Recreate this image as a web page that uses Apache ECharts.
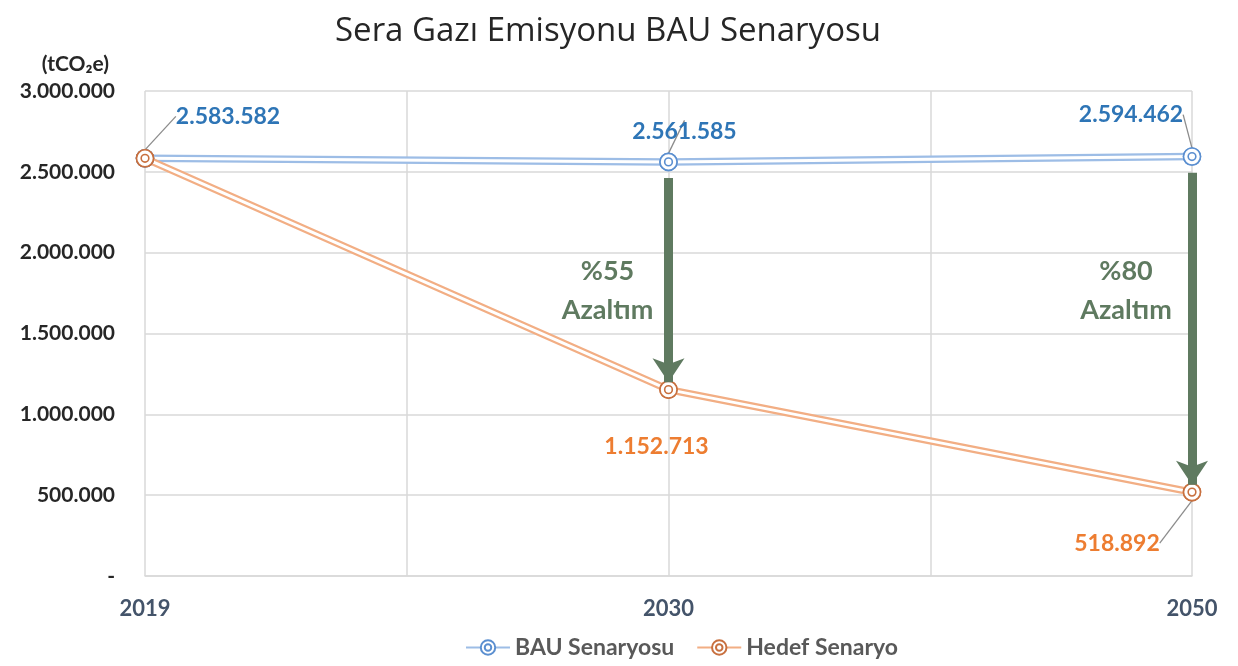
<!DOCTYPE html>
<html>
<head>
<meta charset="utf-8">
<title>Sera Gazı Emisyonu BAU Senaryosu</title>
<script src="https://cdn.jsdelivr.net/npm/echarts@6/dist/echarts.min.js"></script>
<style>
  html, body { margin: 0; padding: 0; background: #fff; }
  #main { width: 1238px; height: 666px; }
</style>
</head>
<body>
<div id="main"></div>
<script>
// data
let years = ['2019', '2030', '2050'];
let bauValues = [2583582, 2561585, 2594462];
let hedefValues = [2583582, 1152713, 518892];
let seriesNames = ['BAU Senaryosu', 'Hedef Senaryo'];

// label offsets from the point (px), one per year
let bauLabelOffsets = [[83, -42], [16, -30], [-61, -42]];
let hedefLabelOffsets = [[0, 0], [-12, 57], [-75, 51]];

(function () {
    // axis has an empty slot between the years, like the original
    let axisCats = [];
    let spread = function (arr) {
        let out = [];
        arr.forEach((v, i) => {
            if (i > 0) out.push(null);
            out.push(v);
        });
        return out;
    };
    years.forEach((y, i) => {
        if (i > 0) axisCats.push('');
        axisCats.push(y);
    });

    let fmt = v => String(Math.round(v)).replace(/\B(?=(\d{3})+(?!\d))/g, '.');

    let ring = 'path://M0,-8A8,8 0 1,1 0,8A8,8 0 1,1 0,-8Z M0,-3.6A3.6,3.6 0 1,1 0,3.6A3.6,3.6 0 1,1 0,-3.6Z';
    let arrowColor = '#5f7a60';

    // two series per line: wide coloured stroke + thin white stroke on top = double line
    let makeSeries = function (name, values, showLabel, showGuide, lineColor, ringColor, labelColor, offsets) {
        let base = {
            name: name,
            type: 'line',
            connectNulls: true,
            symbol: ring,
            symbolSize: 17,
            itemStyle: {color: '#fff', borderColor: ringColor, borderWidth: 1.6},
            emphasis: {disabled: true},
            animation: false
        };
        let outer = Object.assign({}, base, {
            data: spread(values),
            label: {show: false},
            lineStyle: {color: lineColor, width: 7.5}
        });
        let inner = Object.assign({}, base, {
            data: spread(values.map((v, i) => ({
                value: v,
                label: {show: showLabel[i]},
                labelLine: {show: showGuide[i]}
            }))),
            lineStyle: {color: '#fff', width: 3},
            label: {
                show: true,
                position: 'inside',
                formatter: p => fmt(p.value),
                color: labelColor,
                fontFamily: 'Lato',
                fontWeight: 'bold',
                fontSize: 23
            },
            labelLine: {show: true, lineStyle: {color: '#8c8c8c', width: 1.3}},
            labelLayout: function (p) {
                let o = offsets[Math.round(p.dataIndex / 2)] || [0, 0];
                return {dx: o[0], dy: o[1]};
            }
        });
        return [outer, inner];
    };

    let arrowData = [];
    let arrowTexts = [];
    years.forEach((y, i) => {
        if (i === 0) return;
        let b = bauValues[i], t = hedefValues[i];
        arrowData.push([
            {coord: [i * 2, b - 100000]},
            {coord: [i * 2, t + 45000]}
        ]);
        arrowTexts.push({
            coord: [i * 2, (b + t) / 2],
            value: '%' + Math.round((1 - t / b) * 100) + '\nAzaltım'
        });
    });

    let bauSeries = makeSeries(seriesNames[0], bauValues, [true, true, true], [true, true, true],
        '#9dbde6', '#5b8fd0', '#2e75b6', bauLabelOffsets);
    let hedefSeries = makeSeries(seriesNames[1], hedefValues, [false, true, true], [false, false, true],
        '#f2ae84', '#c8703f', '#ed7d31', hedefLabelOffsets);

    hedefSeries[1].markLine = {
        silent: true,
        symbol: ['none', 'arrow'],
        symbolSize: [24, 24],
        lineStyle: {color: arrowColor, width: 9, type: 'solid', opacity: 1},
        label: {show: false},
        data: arrowData,
        animation: false
    };
    hedefSeries[1].markPoint = {
        silent: true,
        symbol: 'circle',
        symbolSize: 0,
        label: {
            show: true,
            formatter: p => p.value,
            color: arrowColor,
            fontFamily: 'Lato',
            fontWeight: 'bold',
            fontSize: 27,
            lineHeight: 39
        },
        data: arrowTexts.map((a, i) => ({
            coord: a.coord,
            value: a.value,
            label: {offset: i === 0 ? [-61, 15] : [-66, -34]}
        })),
        animation: false
    };

    let myChart = echarts.init(document.getElementById('main'));
    let option = {
        backgroundColor: '#fff',
        title: {
            text: 'Sera Gazı Emisyonu BAU Senaryosu',
            left: 330,
            top: 10,
            textStyle: {fontFamily: 'Open Sans', fontWeight: 'normal', fontSize: 33, color: '#262626'}
        },
        legend: {
            data: seriesNames,
            bottom: 2,
            left: 460,
            itemWidth: 44,
            itemHeight: 18,
            itemGap: 22,
            textStyle: {fontFamily: 'Lato', fontWeight: 'bold', fontSize: 23, color: '#595959'}
        },
        grid: {left: 145, right: 46, top: 91, bottom: 90, containLabel: false},
        xAxis: {
            type: 'category',
            data: axisCats,
            boundaryGap: false,
            axisLine: {lineStyle: {color: '#d9d9d9', width: 1.5}},
            axisTick: {show: false},
            axisLabel: {
                interval: 0, margin: 22,
                fontFamily: 'Lato', fontWeight: 'bold', fontSize: 22, color: '#44546a'
            },
            splitLine: {show: true, lineStyle: {color: '#d9d9d9', width: 1.5}}
        },
        yAxis: {
            type: 'value',
            min: 0,
            max: 3000000,
            interval: 500000,
            name: '(tCO₂e)',
            nameGap: 16,
            nameTextStyle: {
                align: 'right', padding: [0, 36, 0, 0],
                fontFamily: 'Lato', fontWeight: 'bold', fontSize: 21, color: '#262626'
            },
            axisLine: {show: false},
            axisTick: {show: false},
            axisLabel: {
                margin: 30,
                formatter: v => v === 0 ? '-' : fmt(v),
                fontFamily: 'Lato', fontWeight: 'bold', fontSize: 21, color: '#262626'
            },
            splitLine: {lineStyle: {color: '#d9d9d9', width: 1.5}}
        },
        series: bauSeries.concat(hedefSeries)
    };
    myChart.setOption(option);
})();
</script>
</body>
</html>
